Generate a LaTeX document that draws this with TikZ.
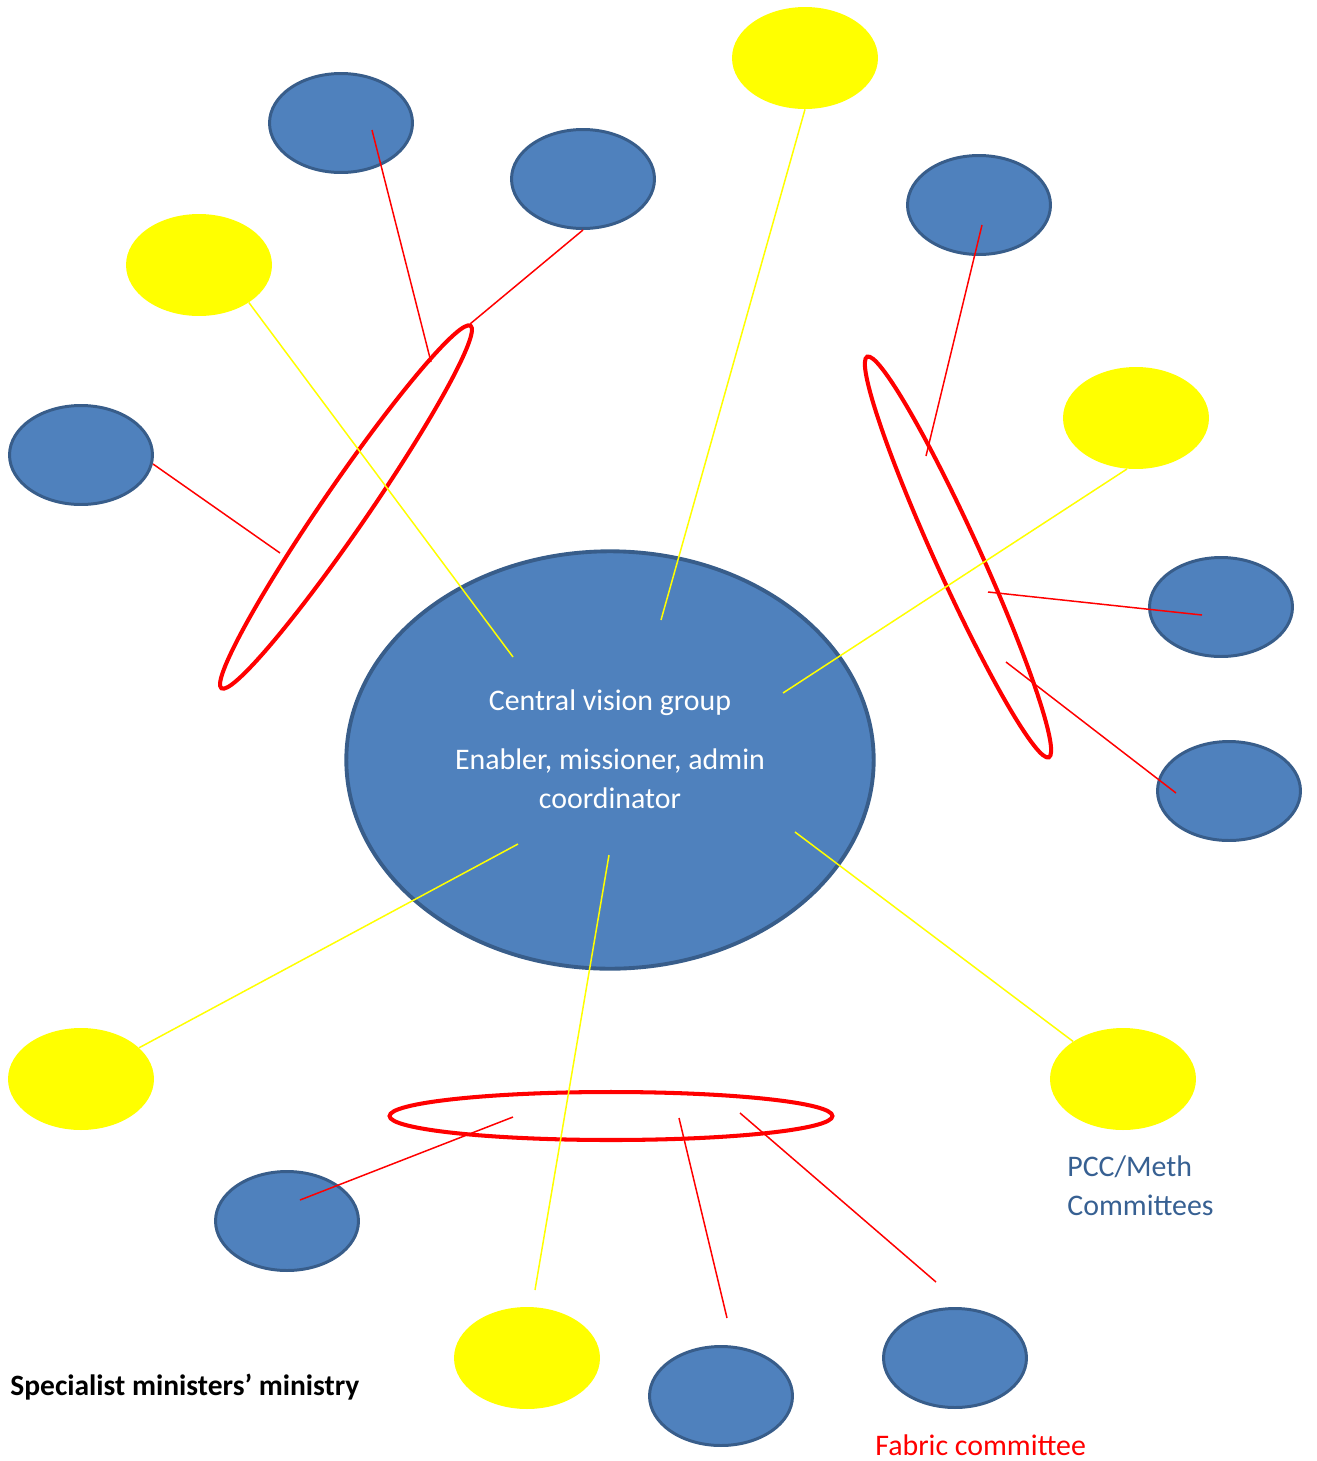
\documentclass[tikz,border=0pt]{standalone}
\usepackage{fontspec}
\setmainfont{Carlito}
\usetikzlibrary{shapes.geometric}

\definecolor{cvblue}{RGB}{79,129,189}
\definecolor{cvedge}{RGB}{56,93,138}
\definecolor{cvtext}{RGB}{55,96,146}
\definecolor{cvyellow}{RGB}{255,255,0}
\definecolor{cvred}{RGB}{255,0,0}

\tikzset{
  bluedot/.style={ellipse,draw=cvedge,line width=1.7pt,fill=cvblue,
    minimum width=2.86cm,minimum height=1.98cm,inner sep=0pt},
  yellowdot/.style={ellipse,fill=cvyellow,minimum width=2.92cm,
    minimum height=2.04cm,inner sep=0pt},
  redring/.style={ellipse,draw=cvred,line width=2.3pt,inner sep=0pt},
  yline/.style={cvyellow,line width=0.85pt},
  rline/.style={cvred,line width=0.85pt},
  plain/.style={inner sep=0pt}
}

\begin{document}
\begin{tikzpicture}[x=0.02cm,y=-0.02cm,font=\fontsize{17}{22}\selectfont]
\useasboundingbox (0,0) rectangle (1316,1461);

% the central group
\node[ellipse,draw=cvedge,line width=2.2pt,fill=cvblue,
      minimum width=10.55cm,minimum height=8.35cm] (cvg) at (610,760) {};
\node[plain,white,align=center] (cvgtext) at (610,749)
  {Central vision group\\[12pt]Enabler, missioner, admin\\coordinator};

% yellow groups
\node[yellowdot] (y1) at (805,58) {};
\node[yellowdot] (y2) at (199,265) {};
\node[yellowdot] (y3) at (1136,418) {};
\node[yellowdot] (y4) at (81,1079) {};
\node[yellowdot] (y5) at (1123,1079) {};
\node[yellowdot] (y6) at (527,1358) {};

% blue groups
\node[bluedot] (b1) at (341,123) {};
\node[bluedot] (b2) at (583,179) {};
\node[bluedot] (b3) at (81,455) {};
\node[bluedot] (b4) at (979,205) {};
\node[bluedot] (b5) at (1221,607) {};
\node[bluedot] (b6) at (1229,791) {};
\node[bluedot] (b7) at (287,1221) {};
\node[bluedot] (b8) at (721,1396) {};
\node[bluedot] (b9) at (955,1358) {};

% red rings
\node[redring,rotate=55.5,minimum width=8.8cm,minimum height=0.9cm] (r1) at (346,507) {};
\node[redring,rotate=114.4,minimum width=8.8cm,minimum height=0.9cm] (r2) at (958,557) {};
\node[redring,minimum width=8.86cm,minimum height=0.96cm] (r3) at (611,1116) {};

% loose ends
\coordinate (cv1) at (661,620);
\coordinate (cv2) at (513,657);
\coordinate (cv3) at (783,693);
\coordinate (cv4) at (518,844);
\coordinate (cv5) at (795,832);
\coordinate (cv6) at (609,855);
\coordinate (y6top) at (535,1290);

\coordinate (b1in) at (372,130);
\coordinate (b3in) at (153,464);
\coordinate (b4in) at (982,225);
\coordinate (b5in) at (1202,615);
\coordinate (b6in) at (1176,793);
\coordinate (b7in) at (300,1200);
\coordinate (b8top) at (727,1318);
\coordinate (b9top) at (936,1282);

\coordinate (r1a) at (431,362);
\coordinate (r1b) at (470,324);
\coordinate (r1c) at (280,553);
\coordinate (r2a) at (926,456);
\coordinate (r2b) at (988,592);
\coordinate (r2c) at (1006,662);
\coordinate (r3a) at (513,1117);
\coordinate (r3b) at (679,1118);
\coordinate (r3c) at (740,1113);

\draw[yline] (y1.south) -- (cv1);
\draw[yline] (y2.-37) -- (cv2);
\draw[yline] (y3.-100) -- (cv3);
\draw[yline] (y4) -- (cv4);
\draw[yline] (y5) -- (cv5);
\draw[yline] (y6top) -- (cv6);

\draw[rline] (b1in) -- (r1a);
\draw[rline] (b2.south) -- (r1b);
\draw[rline] (b3in) -- (r1c);
\draw[rline] (b4in) -- (r2a);
\draw[rline] (b5in) -- (r2b);
\draw[rline] (b6in) -- (r2c);
\draw[rline] (b7in) -- (r3a);
\draw[rline] (b8top) -- (r3b);
\draw[rline] (b9top) -- (r3c);

% labels
\node[plain,cvtext,anchor=west,align=left] (pcc) at (1067,1186) {PCC/Meth\\Committees};
\node[plain,cvred,anchor=west] (fabric) at (875,1445) {Fabric committee};
\node[plain,anchor=west,font=\fontsize{16.8}{22}\selectfont\bfseries] (smm) at (10,1387)
  {Specialist ministers’ ministry};
\end{tikzpicture}
\end{document}
